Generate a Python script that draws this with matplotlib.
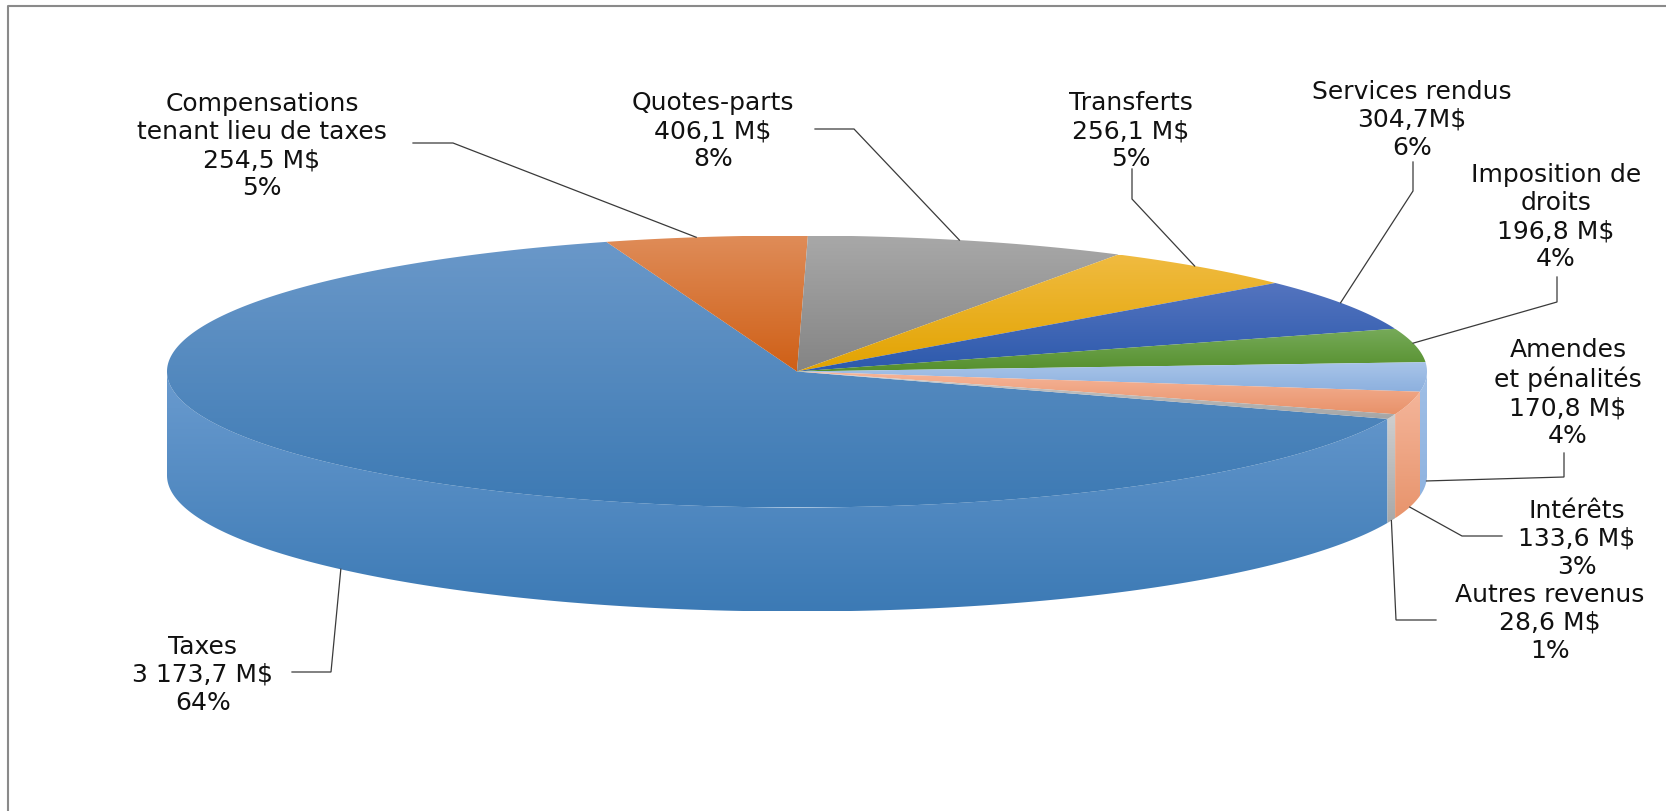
import numpy as np
import matplotlib
matplotlib.use('Agg')
import matplotlib.pyplot as plt
from matplotlib.colors import LinearSegmentedColormap
from matplotlib.patches import Polygon

# clockwise order, starting with Taxes
names = ['Taxes', 'Compensations\ntenant lieu de taxes', 'Quotes-parts', 'Transferts',
         'Services rendus', 'Imposition de\ndroits', 'Amendes\net pénalités', 'Intérêts', 'Autres revenus']
values = [3173.7, 254.5, 406.1, 256.1, 304.7, 196.8, 170.8, 133.6, 28.6]
amounts = ['3 173,7 M$', '254,5 M$', '406,1 M$', '256,1 M$', '304,7M$', '196,8 M$', '170,8 M$', '133,6 M$', '28,6 M$']
percents = ['64%', '5%', '8%', '5%', '6%', '4%', '4%', '3%', '1%']

# gradient colours, light then dark
top_colors = [('#6a98c9', '#3d7ab4'), ('#df8c58', '#cf5f16'), ('#a8a8a8', '#848484'),
              ('#f0bb40', '#e2a300'), ('#5474bf', '#2c59ac'), ('#76aa59', '#558f2c'),
              ('#a8c4e9', '#8cb0de'), ('#f6b599', '#e8926a'), ('#cccccc', '#a5a5a5')]
rim_colors = [('#6a9bcf', '#3c7ab5'), ('#df8c58', '#cf5f16'), ('#a8a8a8', '#848484'),
              ('#f0bb40', '#e2a300'), ('#5474bf', '#2c59ac'), ('#76aa59', '#558f2c'),
              ('#a0bfe6', '#8fb3e0'), ('#f4b59a', '#e8946c'), ('#cfcfcf', '#a8a8a8')]

# layout in pixels of the 1666x812 picture
CX, CY, RX, RY, DEPTH = 797, 372.5, 630, 136, 104
FIRST_ANGLE = 110.4
BACK_LEADER_SHIFT = -0.9
label_xy = [(203, 675), (262, 146), (713, 131), (1131, 131), (1412, 120),
            (1556, 217), (1568, 393), (1577, 539), (1550, 623)]
# elbow points of the leader lines: label end, bend
leader_bends = [[(292, 673), (331, 673)], [(413, 144), (453, 144)], [(815, 130), (854, 130)],
                [(1132, 170), (1132, 200)], [(1413, 163), (1413, 192)], [(1557, 278), (1557, 303)],
                [(1564, 454), (1564, 478)], [(1502, 537), (1462, 537)], [(1436, 621), (1396, 621)]]


def rim_point(angle, drop=0):
    a = np.radians(angle)
    return CX + RX * np.sin(a), CY - RY * np.cos(a) + drop


def fill_gradient(ax, points, colors, zorder):
    cmap = LinearSegmentedColormap.from_list('g', colors)
    xs, ys = zip(*points)
    grad = np.linspace(0, 1, 256).reshape(-1, 1)
    im = ax.imshow(grad, cmap=cmap, aspect='auto', zorder=zorder, interpolation='bilinear',
                   extent=(min(xs), max(xs), max(ys), min(ys)))
    patch = Polygon(points, closed=True, transform=ax.transData, fc='none', ec='none')
    ax.add_patch(patch)
    im.set_clip_path(patch)


fig = plt.figure(figsize=(16.66, 8.12), dpi=100)
ax = fig.add_axes([0, 0, 1, 1])
ax.axis('off')

sweeps = np.array(values) / sum(values) * 360
starts = FIRST_ANGLE + np.concatenate(([0], np.cumsum(sweeps)[:-1]))

for i, (start, sweep) in enumerate(zip(starts, sweeps)):
    # front wall, only the part that faces the viewer
    for lo, hi in [(90, 270), (450, 630)]:
        a0, a1 = max(start, lo), min(start + sweep, hi)
        if a1 > a0:
            arc = np.linspace(a0, a1, 200)
            upper = [rim_point(a) for a in arc]
            lower = [rim_point(a, DEPTH) for a in arc[::-1]]
            fill_gradient(ax, upper + lower, rim_colors[i], 2)

    arc = np.linspace(start, start + sweep, 300)
    fill_gradient(ax, [(CX, CY)] + [rim_point(a) for a in arc], top_colors[i], 3)

for i, (start, sweep) in enumerate(zip(starts, sweeps)):
    mid = start + sweep / 2
    if np.cos(np.radians(mid)) < 0:
        anchor = rim_point(mid, DEPTH)
    else:
        anchor = rim_point(mid + BACK_LEADER_SHIFT)
    pts = leader_bends[i] + [anchor]
    ax.plot(*zip(*pts), color='#3a3a3a', lw=0.9, zorder=4, solid_joinstyle='miter')
    ax.text(*label_xy[i], f'{names[i]}\n{amounts[i]}\n{percents[i]}', ha='center', va='center',
            ma='center', fontsize=18, color='#111111', linespacing=1.22, zorder=5)

# chart frame, only top and left show
ax.plot([8.5, 8.5, 1666], [812, 6.5, 6.5], color='#8a8a8a', lw=1.5, zorder=1)

ax.set_xlim(0, 1666)
ax.set_ylim(812, 0)
fig.savefig('out.png', dpi=100)
